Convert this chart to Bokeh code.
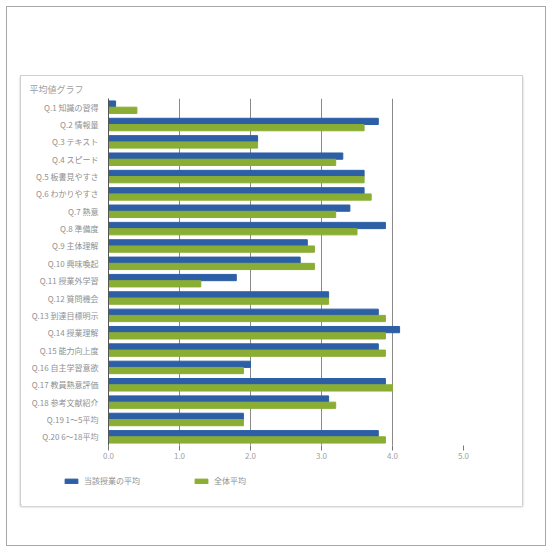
from bokeh.plotting import figure
from bokeh.models import FactorRange, Legend, LegendItem, FixedTicker
from bokeh.layouts import column
from bokeh.transform import dodge
from bokeh.embed import file_html
from bokeh.resources import INLINE

# 設問ごとの平均値（当該授業 / 全体）
questions = [
    "Q.1 知識の習得", "Q.2 情報量", "Q.3 テキスト", "Q.4 スピード",
    "Q.5 板書見やすさ", "Q.6 わかりやすさ", "Q.7 熱意", "Q.8 準備度",
    "Q.9 主体理解", "Q.10 興味喚起", "Q.11 授業外学習", "Q.12 質問機会",
    "Q.13 到達目標明示", "Q.14 授業理解", "Q.15 能力向上度", "Q.16 自主学習意欲",
    "Q.17 教員熱意評価", "Q.18 参考文献紹介", "Q.19 1〜5平均", "Q.20 6〜18平均",
]
course_avg = [0.1, 3.8, 2.1, 3.3, 3.6, 3.6, 3.4, 3.9, 2.8, 2.7,
              1.8, 3.1, 3.8, 4.1, 3.8, 2.0, 3.9, 3.1, 1.9, 3.8]
overall_avg = [0.4, 3.6, 2.1, 3.2, 3.6, 3.7, 3.2, 3.5, 2.9, 2.9,
               1.3, 3.1, 3.9, 3.9, 3.9, 1.9, 4.0, 3.2, 1.9, 3.9]
x_ticks = [0, 1, 2, 3, 4, 5]
series_names = ["当該授業の平均", "全体平均"]

FONT = "Noto Sans CJK JP"
BLUE = "#2d5fa6"
GREEN = "#8aad33"

p = figure(
    width=503, height=390,
    y_range=FactorRange(*reversed(questions)),
    x_range=(0, 5),
    output_backend="svg", toolbar_location=None,
    min_border_left=87, min_border_right=59,
    min_border_top=22, min_border_bottom=21,
    outline_line_color=None,
    background_fill_color="white", border_fill_color="white",
    title="平均値グラフ",
)
p.frame_align = False

# タイトル
p.title.align = "left"
p.title.offset = -79
p.title.text_font = FONT
p.title.text_font_size = "9px"
p.title.text_font_style = "normal"
p.title.text_color = "#a0a0a0"
p.title.standoff = 6

src = dict(q=questions, a=course_avg, b=overall_avg)
r_a = p.hbar(y=dodge("q", 0.18, range=p.y_range), right="a", left=0,
             height=0.36, color=BLUE, source=src)
r_b = p.hbar(y=dodge("q", -0.18, range=p.y_range), right="b", left=0,
             height=0.36, color=GREEN, source=src)

# x 軸
p.xaxis.ticker = FixedTicker(ticks=x_ticks)
p.xaxis.major_label_overrides = {t: f"{t:.1f}" for t in x_ticks}
p.xaxis.axis_line_color = None
p.xaxis.major_tick_line_color = "#777777"
p.xaxis.major_tick_out = 5
p.xaxis.major_tick_in = 0
p.xaxis.minor_tick_line_color = None
p.xaxis.major_label_text_font = FONT
p.xaxis.major_label_text_font_size = "8px"
p.xaxis.major_label_text_color = "#a0a0a0"
p.xaxis.major_label_standoff = 2

# y 軸
p.yaxis.axis_line_color = "#555555"
p.yaxis.major_tick_line_color = None
p.yaxis.minor_tick_line_color = None
p.yaxis.major_label_text_font = FONT
p.yaxis.major_label_text_font_size = "8px"
p.yaxis.major_label_text_color = "#909090"
p.yaxis.major_label_standoff = 4

p.xgrid.ticker = FixedTicker(ticks=x_ticks)
p.xgrid.grid_line_color = "#8a8a8a"
p.ygrid.grid_line_color = None

# 凡例用の小さな図（系列の色見本のみ、見本のバーは表示範囲外）
leg = figure(
    width=503, height=40, x_range=(0, 1), y_range=(0, 1),
    output_backend="svg", toolbar_location=None,
    x_axis_type=None, y_axis_type=None, min_border=0,
    outline_line_color=None, background_fill_color="white",
    border_fill_color="white",
)
leg.frame_align = False
leg.grid.visible = False
sw_a = leg.hbar(y=[-5], left=[-6], right=[-5], height=0.1, color=BLUE)
sw_b = leg.hbar(y=[-5], left=[-6], right=[-5], height=0.1, color=GREEN)
legend = Legend(
    items=[LegendItem(label=series_names[0], renderers=[sw_a]),
           LegendItem(label=series_names[1], renderers=[sw_b])],
    orientation="horizontal", location=(42, 20),
    glyph_width=16, glyph_height=6, label_standoff=5, spacing=53,
    padding=0, margin=0, border_line_color=None, background_fill_alpha=0,
    label_text_font=FONT, label_text_font_size="8px", label_text_color="#909090",
)
leg.add_layout(legend)

panel = column(p, leg, width=503, height=430, margin=(68, 0, 0, 13), spacing=0,
               styles={"border": "1px solid #cfcfcf",
                       "box-shadow": "0 2px 2px #c4c4c4",
                       "background": "white"})

page = column(panel, width=540, height=540, margin=(6, 0, 0, 6),
              styles={"border": "1px solid #a8a8a8", "background": "white"})

open("out.html", "w").write(file_html(page, INLINE))
